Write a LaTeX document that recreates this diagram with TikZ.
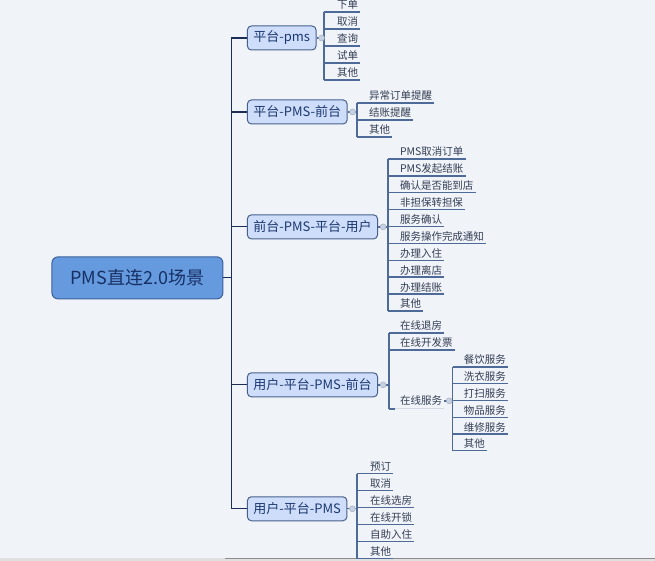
\documentclass[tikz,border=0pt]{standalone}
\usepackage{fontspec}
\setmainfont{Noto Sans CJK SC}
\usetikzlibrary{positioning,calc}

\definecolor{bgcol}{RGB}{240,243,248}
\definecolor{rootfill}{RGB}{102,154,222}
\definecolor{rootdraw}{RGB}{58,96,156}
\definecolor{roottext}{RGB}{22,48,100}
\definecolor{topicfill}{RGB}{206,222,250}
\definecolor{topicdraw}{RGB}{72,96,140}
\definecolor{topictext}{RGB}{28,56,112}
\definecolor{trunkcol}{RGB}{28,46,86}
\definecolor{linecol}{RGB}{78,106,152}
\definecolor{leaftext}{RGB}{52,62,84}
\definecolor{knobfill}{RGB}{198,210,228}

\begin{document}
\begin{tikzpicture}[x=1pt,y=-1pt,
    root/.style={draw=rootdraw, fill=rootfill, line width=1pt, rounded corners=6pt,
      minimum width=171pt, minimum height=42pt, text=roottext, font=\fontsize{18}{20}\selectfont},
    topic/.style={draw=topicdraw, fill=topicfill, line width=1pt, rounded corners=4pt,
      minimum height=24pt, inner xsep=6pt, anchor=west, text=topictext, font=\fontsize{13}{15}\selectfont},
    leaf/.style={anchor=base west, inner xsep=2pt, inner ysep=0pt, text=leaftext, font=\fontsize{10.5}{12}\selectfont},
    trunk/.style={draw=trunkcol, line width=1.2pt},
    uline/.style={draw=linecol, line width=1.4pt},
    knob/.style={circle, fill=knobfill, draw=knobfill!80!black, line width=0.4pt, inner sep=0pt, minimum size=6pt}]

    % Background
    \fill[bgcol] (0,0) rectangle (655,561);
    \fill[black!12] (0,558.5) rectangle (655,561);
    \draw[black!45, line width=0.6pt] (225,558.5) -- (655,558.5);

    % Root and main topics
    \node[root] (root) at (137.5,278) {PMS直连2.0场景};
    \node[topic] (b1) at (247,38) {平台-pms};
    \node[topic] (b2) at (247,112) {平台-PMS-前台};
    \node[topic] (b3) at (247,227) {前台-PMS-平台-用户};
    \node[topic] (b4) at (247,385) {用户-平台-PMS-前台};
    \node[topic] (b5) at (247,509) {用户-平台-PMS};

    % Trunk
    \coordinate (tr) at ($(root.east)+(8,0)$);
    \draw[trunk] (root.east) -- (tr);
    \foreach \b in {b1,b2,b3,b4,b5}
        \draw[trunk] (tr) |- (\b.west);

    % 平台-pms
    \foreach \t [count=\i] in {下单,取消,查询,试单,其他} {
        \coordinate (k1-\i) at (324,{12+17*(\i-1)});
        \node[leaf] (l1-\i) at ($(k1-\i)+(11,-3)$) {\t};
        \draw[uline] (k1-\i) -- (k1-\i -| l1-\i.east);
    }
    \draw[uline] (k1-1) -- (k1-5);
    \draw[uline] (b1.east) -- (b1.east -| k1-1);
    \node[knob] (m1) at ($(b1.east)+(5,0)$) {};

    % 平台-PMS-前台
    \foreach \t [count=\i] in {异常订单提醒,结账提醒,其他} {
        \coordinate (k2-\i) at (357,{103+17*(\i-1)});
        \node[leaf] (l2-\i) at ($(k2-\i)+(10,-3)$) {\t};
        \draw[uline] (k2-\i) -- (k2-\i -| l2-\i.east);
    }
    \draw[uline] (k2-1) -- (k2-3);
    \draw[uline] (b2.east) -- (b2.east -| k2-1);
    \node[knob] (m2) at ($(b2.east)+(5,0)$) {};

    % 前台-PMS-平台-用户
    \foreach \t [count=\i] in {PMS取消订单,PMS发起结账,确认是否能到店,非担保转担保,服务确认,
                               服务操作完成通知,办理入住,办理离店,办理结账,其他} {
        \coordinate (k3-\i) at (388,{159+16.9*(\i-1)});
        \node[leaf] (l3-\i) at ($(k3-\i)+(10,-3)$) {\t};
        \draw[uline] (k3-\i) -- (k3-\i -| l3-\i.east);
    }
    \draw[uline] (k3-1) -- (k3-10);
    \draw[uline] (b3.east) -- (b3.east -| k3-1);
    \node[knob] (m3) at ($(b3.east)+(5,0)$) {};

    % 用户-平台-PMS-前台
    \coordinate (k4-1) at (389,333);
    \coordinate (k4-2) at (389,350);
    \coordinate (k4-3) at (389,409);
    \node[leaf] (l4-1) at ($(k4-1)+(9,-3)$) {在线退房};
    \node[leaf] (l4-2) at ($(k4-2)+(9,-3)$) {在线开发票};
    \node[leaf] (l4-3) at ($(k4-3)+(9,-4)$) {在线服务};
    \draw[uline] (k4-1) -- (k4-1 -| l4-1.east);
    \draw[uline] (k4-2) -- (k4-2 -| l4-2.east);
    \draw[uline] (k4-3) -- ($(k4-3)+(6,0)$);
    \draw[linecol!25, line width=1pt] ($(k4-3)+(6,0)$) -- (k4-3 -| l4-3.east);
    \draw[uline] (k4-1) -- (k4-3);
    \draw[uline] (b4.east) -- (b4.east -| k4-1);
    \node[knob] (m4) at ($(b4.east)+(5,0)$) {};

    % 在线服务
    \foreach \t [count=\i] in {餐饮服务,洗衣服务,打扫服务,物品服务,维修服务,其他} {
        \coordinate (s-\i) at (453,{367+16.8*(\i-1)});
        \node[leaf] (n-\i) at ($(s-\i)+(9,-3)$) {\t};
        \draw[uline] (s-\i) -- (s-\i -| n-\i.east);
    }
    \draw[uline] (s-1) -- (s-6);
    \draw[uline] (l4-3.east) -- (l4-3.east -| s-1);
    \node[knob] (m6) at ($(l4-3.east)+(5,0)$) {};

    % 用户-平台-PMS
    \foreach \t [count=\i] in {预订,取消,在线选房,在线开锁,自助入住,其他} {
        \coordinate (k5-\i) at (357,{474+17*(\i-1)});
        \node[leaf] (l5-\i) at ($(k5-\i)+(11,-3)$) {\t};
        \draw[uline] (k5-\i) -- (k5-\i -| l5-\i.east);
    }
    \draw[uline] (k5-1) -- (k5-6);
    \draw[uline] (b5.east) -- (b5.east -| k5-1);
    \node[knob] (m5) at ($(b5.east)+(5,0)$) {};

    \useasboundingbox (0,0) rectangle (655,561);
\end{tikzpicture}
\end{document}
